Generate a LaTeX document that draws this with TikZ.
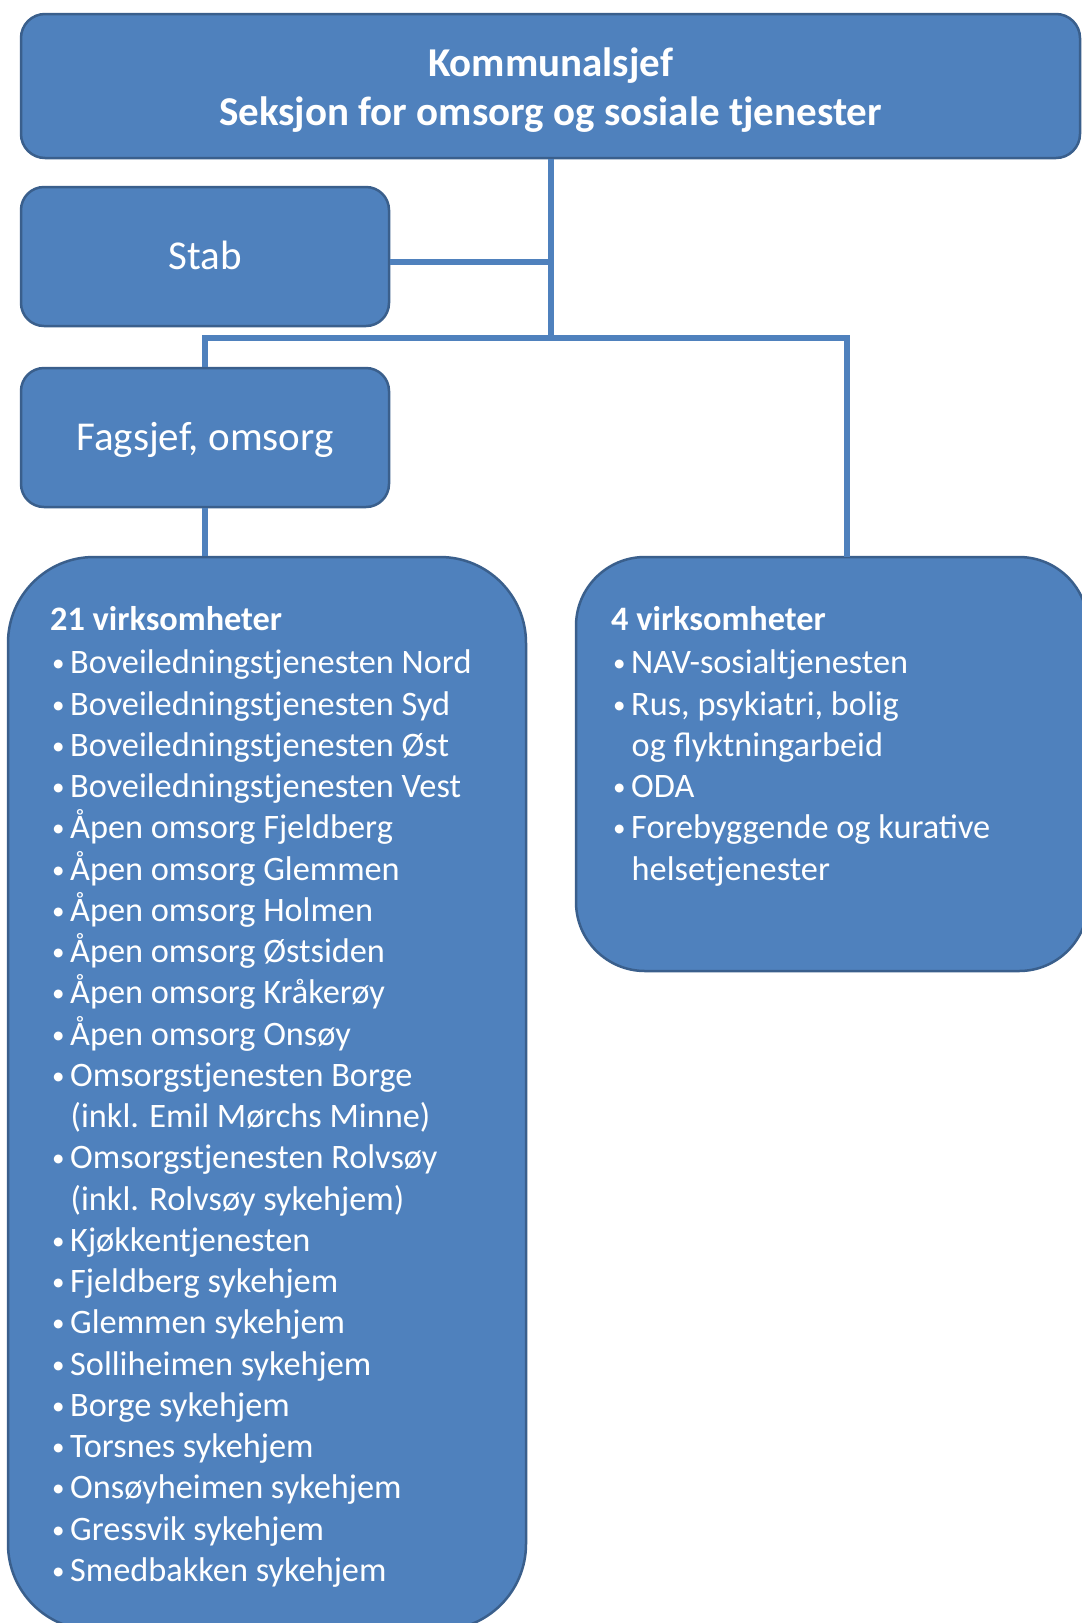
\documentclass[tikz,border=0pt]{standalone}
\usepackage{fontspec}
\setmainfont{Carlito}
\definecolor{boxfill}{HTML}{4F81BD}
\definecolor{boxline}{HTML}{3A5F8C}
\definecolor{conncol}{HTML}{4F81BD}
\newcommand\bul[1]{\makebox[20pt][l]{\hspace{2pt}\raisebox{2pt}{\fontsize{25}{25}\selectfont•}}#1\par}
\newcommand\cnt[1]{\hspace*{20.5pt}#1\par}
\tikzset{
  orgbox/.style={draw=boxline, fill=boxfill, line width=2.5pt, inner sep=0pt, rectangle, rounded corners=#1},
  link/.style={draw=conncol, line width=6pt},
  bigtxt/.style={text=white, inner sep=0pt, font=\fontsize{41}{49}\selectfont},
  toptxt/.style={text=white, inner sep=0pt, anchor=base, font=\fontsize{41}{49}\selectfont\bfseries},
  listtxt/.style={text=white, inner sep=0pt, anchor=base west}
}
\begin{document}
\begin{tikzpicture}[x=1pt,y=-1pt]
\useasboundingbox (0,0) rectangle (1082,1623);
\clip (0,0) rectangle (1082,1623);
\fill[white] (0,0) rectangle (1082,1623);

% boxes
\node[orgbox=24pt, minimum width=1059pt, minimum height=144pt] (top) at (550.5,86) {};
\node[orgbox=23pt, minimum width=368pt, minimum height=139pt] (stab) at (205,256.5) {};
\node[orgbox=23pt, minimum width=368pt, minimum height=139pt] (fag) at (205,437.5) {};
\node[orgbox=86pt, minimum width=518pt, minimum height=1073pt] (left) at (267,1093.5) {};
\node[orgbox=69pt, minimum width=512pt, minimum height=414pt] (right) at (832,764) {};

% connectors
\coordinate (hb) at (550.5,338);
\coordinate (rtop) at (847,557);
\draw[link] (top.south) -- (hb);
\draw[link] ([yshift=-5pt]stab.east) -- ([yshift=-5pt]stab.east -| top.south);
\draw[link] (fag.north) |- (hb) -| (rtop);
\draw[link] (fag.south) -- (fag.south |- left.north);

% texts
\node[toptxt] (t1) at (550.5,76) {Kommunalsjef};
\node[toptxt] (t2) at (550.5,125) {Seksjon for omsorg og sosiale tjenester};
\node[bigtxt, anchor=base] (stabt) at (205,269) {Stab};
\node[bigtxt, anchor=base] (fagt) at (205,450) {Fagsjef, omsorg};

\node[listtxt] (llist) at (50,630.5) {\begin{minipage}[t]{470pt}\fontsize{34.3}{41.25}\selectfont\raggedright\parindent=0pt
{\bfseries 21 virksomheter}\par\vspace{2pt}
\bul{Boveiledningstjenesten Nord}
\bul{Boveiledningstjenesten Syd}
\bul{Boveiledningstjenesten Øst}
\bul{Boveiledningstjenesten Vest}
\bul{Åpen omsorg Fjeldberg}
\bul{Åpen omsorg Glemmen}
\bul{Åpen omsorg Holmen}
\bul{Åpen omsorg Østsiden}
\bul{Åpen omsorg Kråkerøy}
\bul{Åpen omsorg Onsøy}
\bul{Omsorgstjenesten Borge}
\cnt{(inkl. Emil Mørchs Minne)}
\bul{Omsorgstjenesten Rolvsøy}
\cnt{(inkl. Rolvsøy sykehjem)}
\bul{Kjøkkentjenesten}
\bul{Fjeldberg sykehjem}
\bul{Glemmen sykehjem}
\bul{Solliheimen sykehjem}
\bul{Borge sykehjem}
\bul{Torsnes sykehjem}
\bul{Onsøyheimen sykehjem}
\bul{Gressvik sykehjem}
\bul{Smedbakken sykehjem}
\end{minipage}};

\node[listtxt] (rlist) at (611,630.5) {\begin{minipage}[t]{460pt}\fontsize{34.3}{41.25}\selectfont\raggedright\parindent=0pt
{\bfseries 4 virksomheter}\par\vspace{2pt}
\bul{NAV-sosialtjenesten}
\bul{Rus, psykiatri, bolig}
\cnt{og flyktningarbeid}
\bul{ODA}
\bul{Forebyggende og kurative}
\cnt{helsetjenester}
\end{minipage}};
\end{tikzpicture}
\end{document}
